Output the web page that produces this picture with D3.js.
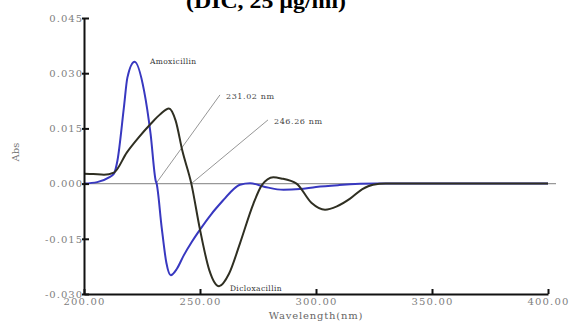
<!DOCTYPE html>
<html>
<head>
<meta charset="utf-8">
<script src="https://cdn.jsdelivr.net/npm/d3@7"></script>
<style>
  body { margin: 0; background: #fff; }
  svg { display: block; font-family: "DejaVu Serif", "Liberation Serif", serif; }
</style>
</head>
<body>
<div id="chart"></div>
<script>
// Wavelength (nm) and first-derivative absorbance
const amoxWave = [200, 205.7, 210.8, 212.9, 214.4, 217.2, 218.7, 221.8, 225.9, 228.7, 230.9, 231.3, 233.5, 235.5, 237.4, 240, 243, 246.5, 250, 255, 259.9, 264, 267.2, 271.6, 278, 286, 293, 300, 310, 326, 400];
const amoxAbs = [0, 0.0004, 0.0017, 0.0027, 0.0062, 0.0207, 0.0288, 0.0331, 0.0252, 0.0135, 0.0008, 0, -0.012, -0.0215, -0.0249, -0.0232, -0.0195, -0.0158, -0.0125, -0.0082, -0.0046, -0.0018, -0.0003, 0.0001, -0.0009, -0.0017, -0.0015, -0.0009, -0.0004, 0, 0];

const diclWave = [200, 204, 208.6, 212.9, 218.5, 223.5, 228.7, 233, 236.6, 239.5, 242.4, 246.26, 250, 254, 258.2, 262.5, 267.2, 273, 276.6, 281.6, 285, 291.6, 298, 303.9, 309, 314.7, 320, 324.6, 330, 400];
const diclAbs = [0.0027, 0.0026, 0.0024, 0.0030, 0.0085, 0.0125, 0.0162, 0.0189, 0.0204, 0.0171, 0.0089, 0, -0.0125, -0.0235, -0.0279, -0.0245, -0.0163, -0.0055, -0.0005, 0.0017, 0.0014, 0, -0.0052, -0.0071, -0.0062, -0.0041, -0.0015, -0.0003, 0, 0];

const yTicks = [-0.030, -0.015, 0.000, 0.015, 0.030, 0.045];
const xTicks = [200, 250, 300, 350, 400];

// Marked zero crossings and where their leader labels sit
const markWave = [231.02, 246.26];
const markLabelWave = [258.6, 279.3];
const markLabelAbs = [0.0241, 0.0173];
const markLabels = ["231.02 nm", "246.26 nm"];

const width = 571, height = 322;
const svg = d3.select("#chart").append("svg")
  .attr("width", width)
  .attr("height", height);

svg.append("rect").attr("width", width).attr("height", height).attr("fill", "#fff");

const x = d3.scaleLinear().domain([200, 400]).range([84, 548]);
const y = d3.scaleLinear().domain([-0.030, 0.045]).range([294, 18]);

const fmt = f => d => d3.format(f)(d).replace("\u2212", "-");

// Title (cut off at the top edge, as in the source image)
svg.append("text")
  .attr("x", 186)
  .attr("y", 8)
  .attr("font-family", "Liberation Serif, serif")
  .attr("font-size", 21)
  .attr("font-weight", "bold")
  .attr("fill", "#000")
  .attr("textLength", 160)
  .attr("lengthAdjust", "spacingAndGlyphs")
  .text("(DIC, 25 µg/ml)");

// Zero baseline
svg.append("line")
  .attr("x1", x(200)).attr("x2", x(400) + 8)
  .attr("y1", y(0)).attr("y2", y(0))
  .attr("stroke", "#999")
  .attr("stroke-width", 1.2);

// Leader lines to the zero crossings
markWave.forEach((w, i) => {
  svg.append("line")
    .attr("x1", x(w)).attr("y1", y(0))
    .attr("x2", x(markLabelWave[i])).attr("y2", y(markLabelAbs[i]))
    .attr("stroke", "#8a8a8a")
    .attr("stroke-width", 0.9);
  svg.append("text")
    .attr("x", x(markLabelWave[i]) + 6)
    .attr("y", y(markLabelAbs[i]) + 4)
    .attr("font-size", 8)
    .attr("letter-spacing", 0.6)
    .attr("fill", "#444")
    .text(markLabels[i]);
});

const line = d3.line()
  .x(d => x(d[0]))
  .y(d => y(d[1]))
  .curve(d3.curveMonotoneX);

svg.append("path")
  .datum(d3.zip(amoxWave, amoxAbs))
  .attr("d", line)
  .attr("fill", "none")
  .attr("stroke", "#3838c0")
  .attr("stroke-width", 2);

svg.append("path")
  .datum(d3.zip(diclWave, diclAbs))
  .attr("d", line)
  .attr("fill", "none")
  .attr("stroke", "#2f2f22")
  .attr("stroke-width", 2);

// Curve labels
svg.append("text")
  .attr("x", x(228.4)).attr("y", y(0.0325))
  .attr("font-size", 7.5)
  .attr("letter-spacing", 0.4)
  .attr("fill", "#333")
  .text("Amoxicillin");

svg.append("text")
  .attr("x", x(262.9)).attr("y", y(-0.0292))
  .attr("font-size", 7.5)
  .attr("letter-spacing", 0.4)
  .attr("fill", "#333")
  .text("Dicloxacillin");

// Axes
const yAxis = svg.append("g")
  .attr("transform", `translate(${x(200)},0)`)
  .call(d3.axisLeft(y).tickValues(yTicks).tickFormat(fmt(".3f")).tickSize(0).tickPadding(1));
yAxis.select(".domain").attr("stroke", "#111").attr("stroke-width", 2);
yAxis.selectAll("text")
  .attr("font-size", 10).attr("fill", "#808080")
  .attr("font-family", "DejaVu Serif, serif").attr("letter-spacing", 1);
yAxis.selectAll(".tick").append("line")
  .attr("x1", -2).attr("x2", 5)
  .attr("stroke", "#111").attr("stroke-width", 2);

const xAxis = svg.append("g")
  .attr("transform", `translate(0,${y(-0.030)})`)
  .call(d3.axisBottom(x).tickValues(xTicks).tickFormat(fmt(".2f")).tickSize(0).tickPadding(4));
xAxis.select(".domain").attr("stroke", "#111").attr("stroke-width", 2);
xAxis.selectAll("text")
  .attr("font-size", 10).attr("fill", "#808080")
  .attr("font-family", "DejaVu Serif, serif").attr("letter-spacing", 1.2);
xAxis.selectAll(".tick").append("line")
  .attr("y1", 0).attr("y2", -5)
  .attr("stroke", "#111").attr("stroke-width", 2);

svg.append("text")
  .attr("x", 316).attr("y", 319)
  .attr("text-anchor", "middle")
  .attr("font-size", 10)
  .attr("letter-spacing", 0.8)
  .attr("fill", "#666")
  .text("Wavelength(nm)");

svg.append("text")
  .attr("transform", "translate(19,152) rotate(-90)")
  .attr("text-anchor", "middle")
  .attr("font-size", 10)
  .attr("fill", "#777")
  .text("Abs");
</script>
</body>
</html>
